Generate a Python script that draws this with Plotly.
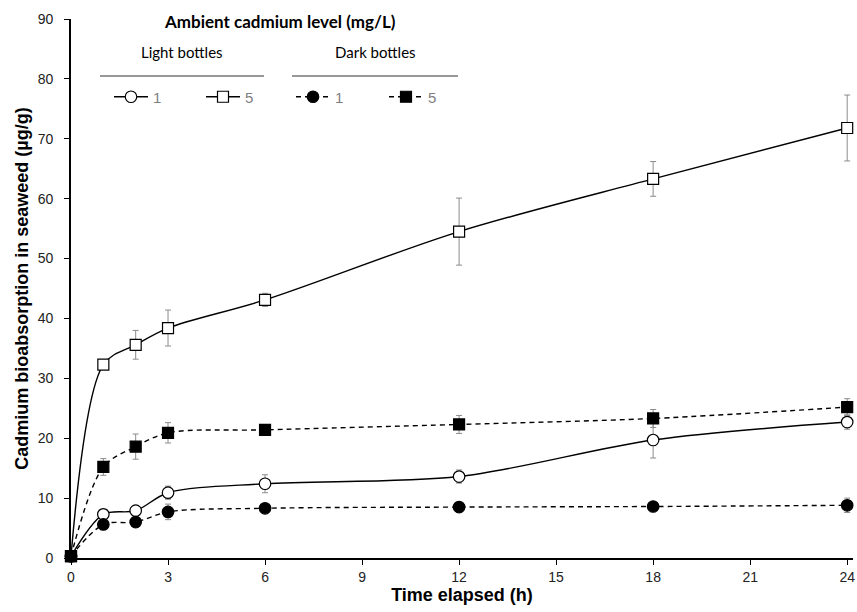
import plotly.graph_objects as go

time_h = [0, 1, 2, 3, 6, 12, 18, 24]

light_1 = [0.3, 7.3, 7.9, 10.9, 12.4, 13.6, 19.7, 22.7]
light_1_err = [0.0, 0.3, 0.4, 1.1, 1.5, 1.1, 3.0, 1.2]

light_5 = [0.3, 32.3, 35.6, 38.4, 43.1, 54.5, 63.3, 71.8]
light_5_err = [0.0, 0.3, 2.4, 3.0, 1.1, 5.6, 2.9, 5.5]

dark_1 = [0.3, 5.6, 6.0, 7.7, 8.3, 8.5, 8.6, 8.8]
dark_1_err = [0.0, 0.3, 0.3, 1.3, 0.3, 0.3, 0.3, 1.2]

dark_5 = [0.3, 15.2, 18.6, 20.9, 21.4, 22.3, 23.3, 25.2]
dark_5_err = [0.0, 1.4, 2.1, 1.7, 0.5, 1.5, 1.5, 1.4]

legend_labels = ["1", "5", "1", "5"]
x_ticks = [0, 3, 6, 9, 12, 15, 18, 21, 24]
y_ticks = [0, 10, 20, 30, 40, 50, 60, 70, 80, 90]

FONT = "Arial, Liberation Sans, sans-serif"
LEG_FONT = "Lato, Open Sans, sans-serif"
ERR_COLOR = "#8c8c8c"

fig = go.Figure()

series = [
    (light_1, light_1_err, "circle", "white", "solid", 11.5, "legend"),
    (light_5, light_5_err, "square", "white", "solid", 11, "legend2"),
    (dark_1, dark_1_err, "circle", "black", "5px,4px", 11.5, "legend3"),
    (dark_5, dark_5_err, "square", "black", "5px,4px", 11, "legend4"),
]

for (vals, errs, sym, fill, dash, size, leg), lab in zip(series, legend_labels):
    fig.add_trace(go.Scatter(
        x=time_h, y=vals, name=lab, legend=leg, showlegend=True,
        mode="lines+markers",
        line=dict(color="black", width=1.4, dash=dash, shape="spline", smoothing=0.9),
        marker=dict(symbol=sym, size=size, color=fill, line=dict(color="black", width=1.2)),
        error_y=dict(type="data", array=errs, visible=True, color=ERR_COLOR, thickness=1, width=3),
        cliponaxis=False,
    ))

W, H = 857, 612
L, R, T, B = 71, 4, 19, 54
pw, ph = W - L - R, H - T - B

def px(xpage):
    return (xpage - L) / pw

def py(ypage):
    return (H - B - ypage) / ph

leg_common = dict(orientation="h", font=dict(family=FONT, size=15, color="#7f7f7f"),
                  bgcolor="rgba(0,0,0,0)", itemwidth=34, yanchor="middle", xanchor="left",
                  itemclick=False, itemdoubleclick=False)
legend_x = [109, 201, 291, 384]
fig.update_layout(
    showlegend=True,
    legend=dict(x=px(legend_x[0]), y=py(97), **leg_common),
    legend2=dict(x=px(legend_x[1]), y=py(97), **leg_common),
    legend3=dict(x=px(legend_x[2]), y=py(97), **leg_common),
    legend4=dict(x=px(legend_x[3]), y=py(97), **leg_common),
)

fig.add_annotation(text="<b>Ambient cadmium level (mg/L)</b>", x=px(280), y=py(22),
                   xref="paper", yref="paper", showarrow=False, xanchor="center", yanchor="middle",
                   font=dict(family=LEG_FONT, size=17, color="black"))
fig.add_annotation(text="Light bottles", x=px(182), y=py(52),
                   xref="paper", yref="paper", showarrow=False, xanchor="center", yanchor="middle",
                   font=dict(family=LEG_FONT, size=15, color="black"))
fig.add_annotation(text="Dark bottles", x=px(375), y=py(52),
                   xref="paper", yref="paper", showarrow=False, xanchor="center", yanchor="middle",
                   font=dict(family=LEG_FONT, size=15, color="black"))
for x0, x1 in [(100, 264), (292, 458)]:
    fig.add_shape(type="line", xref="paper", yref="paper", x0=px(x0), x1=px(x1), y0=py(76), y1=py(76),
                  line=dict(color="#333333", width=1.2))

fig.update_layout(
    width=W, height=H,
    margin=dict(l=L, r=R, t=T, b=B),
    plot_bgcolor="white", paper_bgcolor="white",
    font=dict(family=FONT, size=14, color="#222222"),
    xaxis=dict(range=[0, 24.18], tickvals=x_ticks, showgrid=False, zeroline=False, automargin=False,
               showline=True, linecolor="black", linewidth=1.6, ticks="outside", ticklen=5,
               tickcolor="black", tickwidth=1.3, tickfont=dict(family=FONT, size=14, color="#222222"),
               title=dict(text="<b>Time elapsed (h)</b>", font=dict(family=FONT, size=18, color="black"),
                          standoff=4)),
    yaxis=dict(range=[0, 90], tickvals=y_ticks, showgrid=False, zeroline=False, automargin=False,
               showline=True, linecolor="black", linewidth=1.6, ticks="outside", ticklen=5,
               ticklabelstandoff=8,
               tickcolor="black", tickwidth=1.3, tickfont=dict(family=FONT, size=14, color="#222222"),
               title=dict(text="<b>Cadmium bioabsorption in seaweed (µg/g)</b>",
                          font=dict(family=FONT, size=18, color="black"), standoff=5)),
)

fig.write_html("out.html", config={"displayModeBar": False},
               post_script="document.body.style.margin='0';document.body.style.overflow='hidden';")
